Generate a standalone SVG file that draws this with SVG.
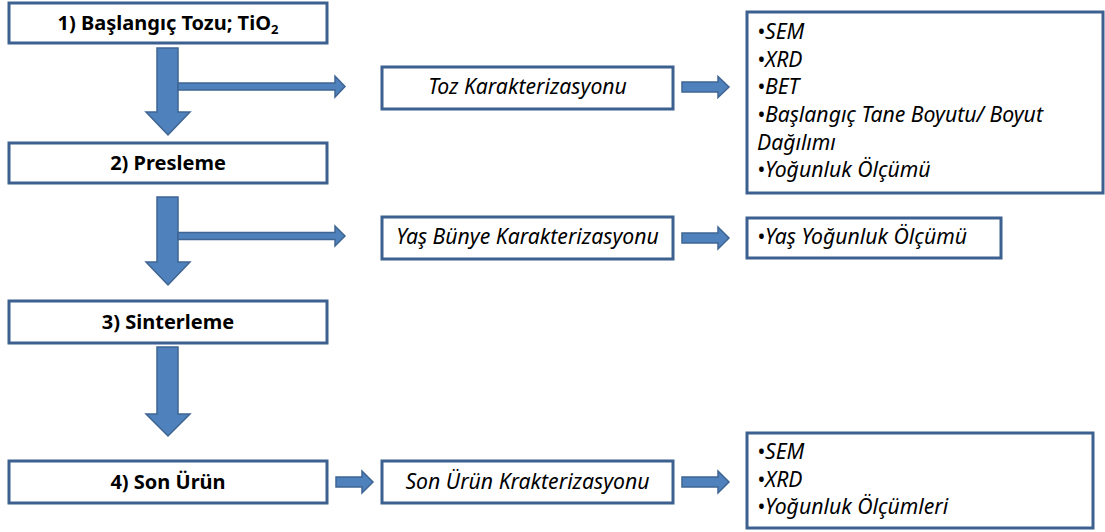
<svg xmlns="http://www.w3.org/2000/svg" width="1105" height="532" viewBox="0 0 1105 532">
  <style>
    .box { fill: #ffffff; stroke: #3c6190; stroke-width: 3; }
    .arrow { fill: #4f81bd; stroke: #3f6592; stroke-width: 1.5; stroke-linejoin: miter; }
    .step { font-family: "Noto Sans", "Liberation Sans", sans-serif; font-weight: bold; font-size: 20px; fill: #000; text-anchor: middle; }
    .char { font-family: "Noto Sans", "Liberation Sans", sans-serif; font-style: italic; font-size: 21.2px; fill: #000; text-anchor: middle; }
    .list { font-family: "Noto Sans", "Liberation Sans", sans-serif; font-style: italic; font-size: 21.2px; fill: #000; }
  </style>

  <!-- process steps -->
  <g id="step1">
    <rect class="box" x="9" y="3" width="318" height="40"/>
    <text class="step" x="168" y="30">1) Başlangıç Tozu; TiO<tspan font-size="13" dy="4">2</tspan></text>
  </g>
  <g id="step2">
    <rect class="box" x="9" y="143" width="318" height="40"/>
    <text class="step" x="168" y="170">2) Presleme</text>
  </g>
  <g id="step3">
    <rect class="box" x="9" y="301" width="318" height="42"/>
    <text class="step" x="168" y="329">3) Sinterleme</text>
  </g>
  <g id="step4">
    <rect class="box" x="9" y="461" width="318" height="42"/>
    <text class="step" x="168" y="489">4) Son Ürün</text>
  </g>

  <!-- characterization stages -->
  <g id="toz-karakterizasyonu">
    <rect class="box" x="382" y="67" width="291" height="42"/>
    <text class="char" x="527.5" y="94">Toz Karakterizasyonu</text>
  </g>
  <g id="yas-bunye-karakterizasyonu">
    <rect class="box" x="382" y="217" width="291" height="42"/>
    <text class="char" x="527.5" y="244">Yaş Bünye Karakterizasyonu</text>
  </g>
  <g id="son-urun-krakterizasyonu">
    <rect class="box" x="382" y="461" width="291" height="42"/>
    <text class="char" x="527.5" y="489">Son Ürün Krakterizasyonu</text>
  </g>

  <!-- measurement lists -->
  <g id="toz-olcumleri">
    <rect class="box" x="747" y="12" width="356" height="181"/>
    <text class="list" x="757" y="39">•SEM</text>
    <text class="list" x="757" y="67">•XRD</text>
    <text class="list" x="757" y="94">•BET</text>
    <text class="list" x="757" y="122">•Başlangıç Tane Boyutu/ Boyut</text>
    <text class="list" x="757" y="150">Dağılımı</text>
    <text class="list" x="757" y="177">•Yoğunluk Ölçümü</text>
  </g>
  <g id="yas-olcumleri">
    <rect class="box" x="747" y="218" width="254" height="40"/>
    <text class="list" x="757" y="244">•Yaş Yoğunluk Ölçümü</text>
  </g>
  <g id="son-urun-olcumleri">
    <rect class="box" x="747" y="433" width="346" height="95"/>
    <text class="list" x="757" y="459">•SEM</text>
    <text class="list" x="757" y="487">•XRD</text>
    <text class="list" x="757" y="514">•Yoğunluk Ölçümleri</text>
  </g>

  <!-- connectors -->
  <g id="connectors">
    <path class="arrow" d="M157,48 H178 V112 H190 L168,135 L146,112 H157 Z"/>
    <path class="arrow" d="M157,197 H178 V262 H190 L168,285 L146,262 H157 Z"/>
    <path class="arrow" d="M157,347 H178 V414 H190 L168,436 L146,414 H157 Z"/>

    <path class="arrow" d="M178,83 H335 V76 L345,86.5 L335,97 V90 H178 Z"/>
    <path class="arrow" d="M178,232.5 H335 V226 L345,236 L335,246 V239.5 H178 Z"/>

    <path class="arrow" d="M682,82 H718 V76.5 L729,87 L718,97.5 V92 H682 Z"/>
    <path class="arrow" d="M682,233 H718 V227 L729,238 L718,249 V243 H682 Z"/>
    <path class="arrow" d="M336,477 H362 V471 L373,482 L362,493 V487 H336 Z"/>
    <path class="arrow" d="M682,477 H718 V471 L729,482 L718,493 V487 H682 Z"/>
  </g>
</svg>
